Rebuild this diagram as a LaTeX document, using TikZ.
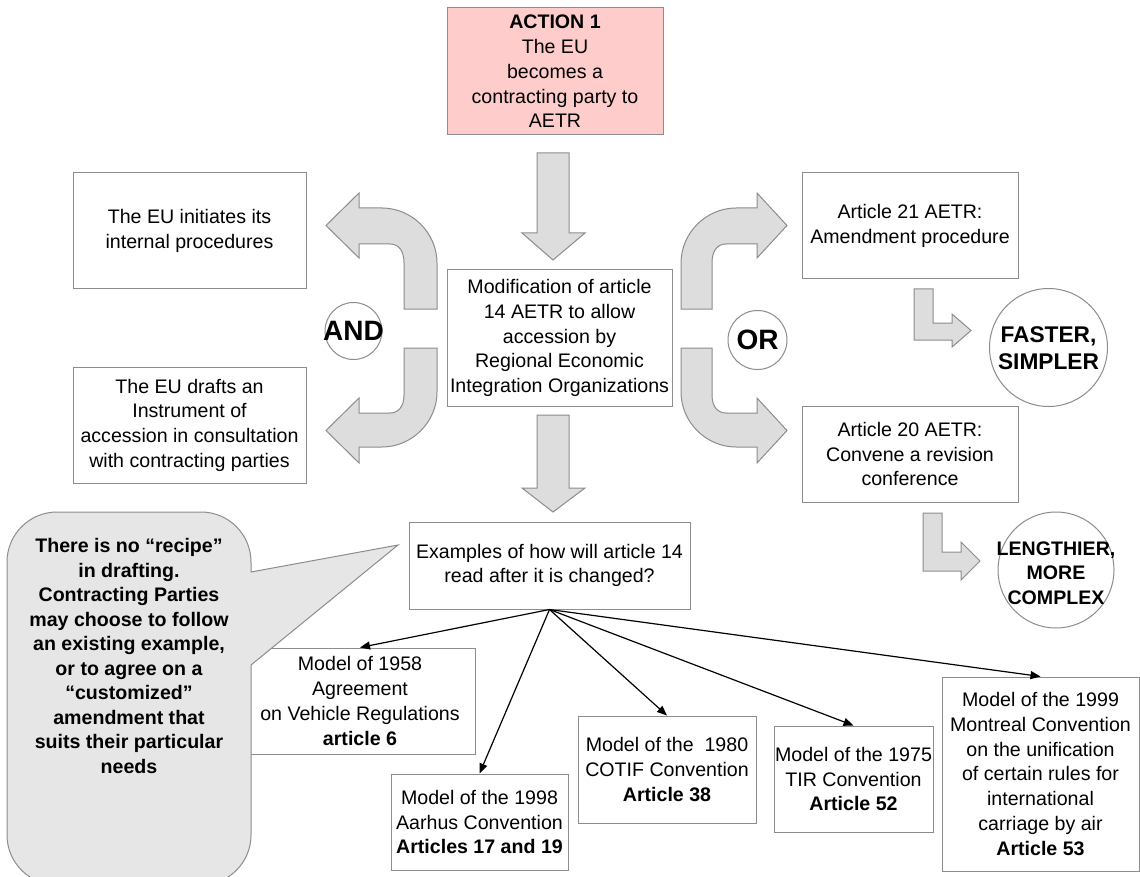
\documentclass[tikz,border=0pt]{standalone}
\usepackage{fontspec}
\setmainfont{Liberation Sans}
\usepackage{xcolor}
\usepackage{tikz}
\usetikzlibrary{positioning,calc,arrows.meta}
\definecolor{aetrborder}{RGB}{140,140,140}
\definecolor{aetraction}{RGB}{255,204,204}
\definecolor{aetrblock}{RGB}{221,221,221}
\definecolor{aetrcallout}{RGB}{230,230,230}
\newcommand{\aetrfont}{\fontsize{19.6}{24.7}\selectfont}
\newcommand{\aetrboldfont}{\fontsize{19.6}{24.5}\selectfont\bfseries}
\newcommand{\aetrwordfont}{\fontsize{28}{30}\selectfont\bfseries}
\newcommand{\aetrverdictfont}{\fontsize{22.7}{26.7}\selectfont\bfseries}
\tikzset{
    aetr box/.style={
        rectangle,
        draw=aetrborder,
        fill=white,
        line width=1pt,
        inner sep=0pt,
        align=center,
        font=\aetrfont,
    },
    aetr circle/.style={
        circle,
        draw=aetrborder,
        fill=white,
        line width=1pt,
        inner sep=0pt,
        minimum size=#1,
    },
    circle word/.style={font=\aetrwordfont, text=black, inner sep=0pt},
    verdict word/.style={font=#1, text=black, inner sep=0pt, align=center},
    callout text/.style={font=\aetrboldfont, text=black, inner sep=0pt, align=center},
    block arrow/.style={
        fill=aetrblock,
        draw=aetrborder,
        line width=1pt,
        line join=miter,
    },
    callout shape/.style={fill=aetrcallout, draw=aetrborder, line width=1pt},
    model arrow/.style={-{Triangle[length=10pt,width=8pt]}, line width=1.2pt, black},
}

\begin{document}
\begin{tikzpicture}[x=1pt,y=-1pt]
    \useasboundingbox (0,0) rectangle (1140,877);

    %Upper part: the action and the modification of article 14
    \node[aetr box, fill=aetraction, minimum width=216, minimum height=127] (action) at (555,71.5)
        {\textbf{ACTION 1}\\The EU\\becomes a\\contracting party to\\AETR};
    \node[aetr box, minimum width=225, minimum height=136] (modif) at (559.5,338)
        {Modification of article\\14 AETR to allow\\accession by\\Regional Economic\\Integration Organizations};

    \node[aetr box, minimum width=233, minimum height=116] (initiates) at (189.5,231)
        {The EU initiates its\\internal procedures};
    \node[aetr box, minimum width=233, minimum height=116] (drafts) at (189.5,425)
        {The EU drafts an\\Instrument of\\accession in consultation\\with contracting parties};

    \node[aetr box, minimum width=216, minimum height=106] (art21) at (910,226)
        {Article 21 AETR:\\Amendment procedure};
    \node[aetr box, minimum width=216, minimum height=96] (art20) at (910,454)
        {Article 20 AETR:\\Convene a revision\\conference};

    %Circles
    \node[aetr circle=57] (and) at (353.5,331) {};
    \node[circle word] at (and) {AND};
    \node[aetr circle=59] (or) at (757.5,340) {};
    \node[circle word] at (or) {OR};
    \node[aetr circle=118] (faster) at (1048.5,347.5) {};
    \node[verdict word=\aetrverdictfont] at ($(faster.center) + (0,1)$) {FASTER,\\SIMPLER};
    \node[aetr circle=116] (lengthier) at (1056,570) {};
    \node[verdict word=\aetrboldfont] at ($(lengthier.center) + (0,3)$) {LENGTHIER,\\MORE\\COMPLEX};

    %Block arrows
    \draw[block arrow] (537,153) -- (569,153) -- (569,233) -- (585,233) -- (553,260) -- (522,233) -- (537,233) -- cycle;
    \draw[block arrow] (537,415) -- (569,415) -- (569,488) -- (585,488) -- (553,512) -- (522,488) -- (537,488) -- cycle;

    \draw[block arrow] (404,309) -- (437,309) -- (437,263) .. controls (437,233) and (412,208) .. (382,208)
        -- (359,208) -- (359,193) -- (326,225.5) -- (359,258) -- (359,244) -- (390,244)
        .. controls (398,244) and (404,250) .. (404,263) -- cycle;
    \draw[block arrow] (404,348) -- (437,348) -- (437,392) .. controls (437,422) and (412,447) .. (382,447)
        -- (359,447) -- (359,463) -- (326,430.5) -- (359,398) -- (359,413) -- (390,413)
        .. controls (398,413) and (404,407) .. (404,395) -- cycle;

    \draw[block arrow] (712,309) -- (681,309) -- (681,263) .. controls (681,233) and (706,208) .. (736,208)
        -- (757,208) -- (757,193) -- (787,225.5) -- (757,258) -- (757,244) -- (726,244)
        .. controls (718,244) and (712,250) .. (712,263) -- cycle;
    \draw[block arrow] (712,348) -- (681,348) -- (681,392) .. controls (681,422) and (706,447) .. (736,447)
        -- (757,447) -- (757,463) -- (787,430.5) -- (757,398) -- (757,413) -- (726,413)
        .. controls (718,413) and (712,407) .. (712,395) -- cycle;

    \draw[block arrow] (914,289) -- (933,289) -- (933,323) -- (952,323) -- (952,314) -- (971,330.5)
        -- (952,347) -- (952,340) -- (914,340) -- cycle;
    \draw[block arrow] (923,513) -- (942,513) -- (942,552) -- (961,552) -- (961,542) -- (980,561)
        -- (961,580) -- (961,571) -- (923,571) -- cycle;

    %Lower part: examples and models
    \node[aetr box, minimum width=281, minimum height=87] (examples) at (549.5,565.5)
        {Examples of how will article 14\\read after it is changed?};

    \node[aetr box, minimum width=230, minimum height=106] (m1958) at (360,701)
        {Model of 1958\\Agreement\\on Vehicle Regulations\\\textbf{article 6}};
    \node[aetr box, minimum width=177, minimum height=96] (aarhus) at (479.5,822)
        {Model of the 1998\\Aarhus Convention\\\textbf{Articles 17 and 19}};
    \node[aetr box, minimum width=178, minimum height=107] (cotif) at (667,769.5)
        {Model of the~ 1980\\COTIF Convention\\\textbf{Article 38}};
    \node[aetr box, minimum width=159, minimum height=106] (tir) at (853.5,779)
        {Model of the 1975\\TIR Convention\\\textbf{Article 52}};
    \node[aetr box, minimum width=197, minimum height=194] (montreal) at (1040.5,774)
        {Model of the 1999\\Montreal Convention\\on the unification\\of certain rules for\\international\\carriage by air\\\textbf{Article 53}};

    \draw[model arrow] (examples.south) -- (m1958.north);
    \draw[model arrow] (examples.south) -- (aarhus.north);
    \draw[model arrow] (examples.south) -- (cotif.north);
    \draw[model arrow] (examples.south) -- (tir.north);
    \draw[model arrow] (examples.south) -- (montreal.north);

    %Callout pointing to the examples
    \draw[callout shape] (251,572) -- (398,545) -- (251,665) -- (251,835)
        .. controls (251,862.6) and (228.6,885) .. (201,885) -- (57,885)
        .. controls (29.4,885) and (7,862.6) .. (7,835) -- (7,562)
        .. controls (7,534.4) and (29.4,512) .. (57,512) -- (201,512)
        .. controls (228.6,512) and (251,534.4) .. (251,562) -- cycle;
    \node[callout text] (recipe) at (129,656)
        {There is no “recipe”\\in drafting.\\Contracting Parties\\may choose to follow\\an existing example,\\or to agree on a\\“customized”\\amendment that\\suits their particular\\needs};
\end{tikzpicture}
\end{document}
